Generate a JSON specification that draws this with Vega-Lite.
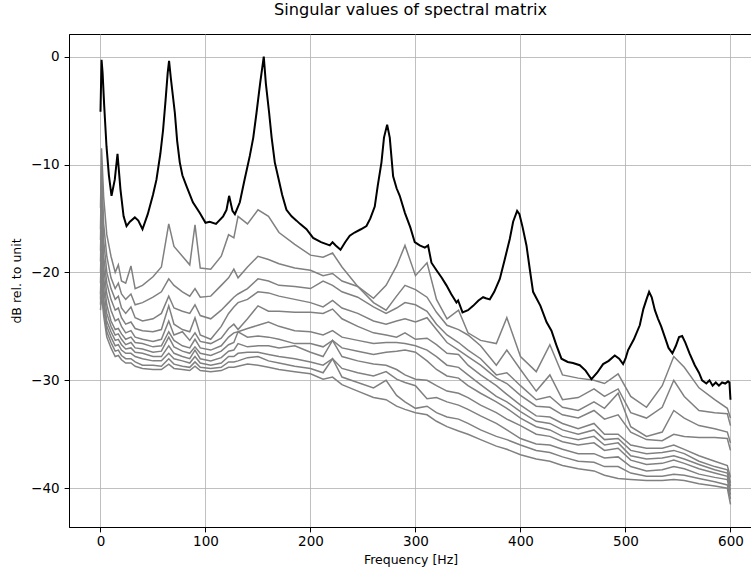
{
"$schema": "https://vega.github.io/schema/vega-lite/v6.json",
"width": 683, "height": 493,
"autosize": {"type": "none"},
"padding": {"left": 69, "top": 34, "right": 0, "bottom": 43},
"background": "white",
"title": {"text": "Singular values of spectral matrix", "font": "DejaVu Sans", "fontSize": 16.2, "fontWeight": "normal", "color": "black", "offset": 16},
"config": {
  "view": {"stroke": "black", "strokeWidth": 1},
  "axis": {"labelFont": "DejaVu Sans", "labelFontSize": 13.5, "labelColor": "black", "titleFont": "DejaVu Sans", "titleFontSize": 12.5, "titleFontWeight": "normal", "titleColor": "black", "domainColor": "black", "tickColor": "black", "tickSize": 4.9, "labelPadding": 4, "gridColor": "#b0b0b0", "gridWidth": 0.8, "gridOpacity": 1}
},
"datasets": {
"g": [
{"f":0,"a":-14,"b":-16,"c":-17,"d":-18,"e":-19,"g":-20,"h":-21,"i":-22,"j":-22.5,"k":-23,"l":-23.5},
{"f":1,"a":-8.5,"b":-10,"c":-12,"d":-13.5,"e":-14.5,"g":-16,"h":-17,"i":-18,"j":-19,"k":-20.5,"l":-22},
{"f":3,"a":-13,"b":-15.5,"c":-17,"d":-18.5,"e":-19.5,"g":-20.5,"h":-21.5,"i":-22.5,"j":-23,"k":-23.5,"l":-24},
{"f":6,"a":-16.5,"b":-18.5,"c":-20,"d":-21,"e":-22,"g":-23,"h":-23.8,"i":-24.5,"j":-25,"k":-25.5,"l":-26},
{"f":10,"a":-18.5,"b":-20.5,"c":-21.5,"d":-22.5,"e":-23.5,"g":-24.5,"h":-25,"i":-25.5,"j":-26,"k":-26.5,"l":-27},
{"f":14,"a":-20,"b":-21.5,"c":-22.5,"d":-23.5,"e":-24.5,"g":-25.3,"h":-25.8,"i":-26.3,"j":-26.8,"k":-27.3,"l":-27.8},
{"f":17,"a":-19.3,"b":-21,"c":-22.2,"d":-23.3,"e":-24.3,"g":-25.2,"h":-25.7,"i":-26.2,"j":-26.7,"k":-27.2,"l":-27.7},
{"f":20,"a":-20.8,"b":-22,"c":-23.3,"d":-24.2,"e":-25,"g":-25.7,"h":-26.2,"i":-26.7,"j":-27.2,"k":-27.7,"l":-28.1},
{"f":24,"a":-21,"b":-22.5,"c":-23.8,"d":-24.8,"e":-25.6,"g":-26.2,"h":-26.7,"i":-27.1,"j":-27.5,"k":-28,"l":-28.4},
{"f":29,"a":-19.4,"b":-22,"c":-23.2,"d":-24.6,"e":-25.4,"g":-26,"h":-26.5,"i":-27,"j":-27.5,"k":-28,"l":-28.4},
{"f":33,"a":-21.5,"b":-23,"c":-24.2,"d":-25.2,"e":-26,"g":-26.5,"h":-27,"i":-27.4,"j":-27.8,"k":-28.3,"l":-28.7},
{"f":40,"a":-21.2,"b":-22.8,"c":-24.5,"d":-25.4,"e":-26.2,"g":-26.6,"h":-27.1,"i":-27.5,"j":-28,"k":-28.6,"l":-28.9},
{"f":50,"a":-20.4,"b":-22.3,"c":-24.3,"d":-25.5,"e":-26.4,"g":-26.9,"h":-27.4,"i":-27.8,"j":-28.2,"k":-28.6,"l":-29},
{"f":58,"a":-19.5,"b":-21.8,"c":-23.8,"d":-25.3,"e":-26.2,"g":-26.8,"h":-27.3,"i":-27.8,"j":-28.2,"k":-28.7,"l":-29},
{"f":65,"a":-15.5,"b":-20.6,"c":-22.2,"d":-23.1,"e":-24.5,"g":-25.5,"h":-26,"i":-26.8,"j":-27.5,"k":-28,"l":-28.5},
{"f":70,"a":-17.6,"b":-21.2,"c":-23.3,"d":-24.8,"e":-25.8,"g":-26.3,"h":-26.9,"i":-27.5,"j":-28,"k":-28.5,"l":-28.9},
{"f":78,"a":-18.5,"b":-21.8,"c":-23.6,"d":-25.3,"e":-25.5,"g":-26.8,"h":-27.3,"i":-27.8,"j":-28.2,"k":-28.7,"l":-29},
{"f":85,"a":-19.3,"b":-22.2,"c":-23.8,"d":-25.5,"e":-26.3,"g":-27,"h":-27.5,"i":-28,"j":-28.4,"k":-28.8,"l":-29.1},
{"f":90,"a":-15.6,"b":-21.5,"c":-23,"d":-24.2,"e":-25.6,"g":-26.2,"h":-26.9,"i":-27.2,"j":-27.8,"k":-28.3,"l":-28.7},
{"f":95,"a":-19.6,"b":-22.3,"c":-24,"d":-25.8,"e":-26.4,"g":-27,"h":-27.5,"i":-28,"j":-28.4,"k":-28.8,"l":-29.1},
{"f":105,"a":-19.7,"b":-22.2,"c":-24.3,"d":-26.2,"e":-26.6,"g":-27.2,"h":-27.7,"i":-28.2,"j":-28.6,"k":-28.9,"l":-29.2},
{"f":115,"a":-18.5,"b":-21.2,"c":-23.5,"d":-25,"e":-26.1,"g":-26.8,"h":-27.3,"i":-27.9,"j":-28.4,"k":-28.8,"l":-29.1},
{"f":122,"a":-16.5,"b":-20.5,"c":-22.8,"d":-23.8,"e":-25.2,"g":-26,"h":-26.7,"i":-27.3,"j":-27.8,"k":-28.3,"l":-28.8},
{"f":127,"a":-16.8,"b":-19.7,"c":-22.3,"d":-23.2,"e":-24.8,"g":-25.6,"h":-26.5,"i":-27.2,"j":-27.8,"k":-28.3,"l":-28.8},
{"f":131,"a":-14.8,"b":-20.5,"c":-22,"d":-22.8,"e":-25.3,"g":-25.5,"h":-25.5,"i":-26.6,"j":-27.5,"k":-28.2,"l":-28.7},
{"f":140,"a":-15.5,"b":-19.5,"c":-21.5,"d":-22.5,"e":-24.3,"g":-25.2,"h":-26,"i":-26.9,"j":-27.4,"k":-27.9,"l":-28.5},
{"f":150,"a":-14.2,"b":-18.5,"c":-20.6,"d":-21.8,"e":-23.1,"g":-24.9,"h":-25.9,"i":-26.8,"j":-27.4,"k":-27.8,"l":-28.6},
{"f":160,"a":-14.8,"b":-18.8,"c":-20.8,"d":-21.9,"e":-23.6,"g":-24.6,"h":-26,"i":-26.8,"j":-27.6,"k":-28.2,"l":-28.8},
{"f":170,"a":-16.3,"b":-19.2,"c":-21.2,"d":-22.2,"e":-23.6,"g":-25,"h":-26.2,"i":-27,"j":-27.8,"k":-28.4,"l":-29},
{"f":185,"a":-17.4,"b":-19.6,"c":-21.3,"d":-22.5,"e":-23.7,"g":-25.4,"h":-26.6,"i":-26.8,"j":-28,"k":-28.7,"l":-29.2},
{"f":200,"a":-18.4,"b":-19.8,"c":-21.5,"d":-22.8,"e":-23.7,"g":-25.5,"h":-26.6,"i":-27.4,"j":-28.3,"k":-28.9,"l":-29.4},
{"f":212,"a":-18.6,"b":-20.3,"c":-20.8,"d":-23.2,"e":-23.8,"g":-25.8,"h":-26.9,"i":-27.8,"j":-28.6,"k":-29.3,"l":-29.9},
{"f":221,"a":-18.2,"b":-20.1,"c":-21.2,"d":-22.6,"e":-23.4,"g":-25.4,"h":-26.3,"i":-26.3,"j":-28,"k":-28,"l":-29.7},
{"f":230,"a":-19.5,"b":-20.8,"c":-21.8,"d":-23.3,"e":-24.3,"g":-26,"h":-27,"i":-27.8,"j":-28.9,"k":-29.7,"l":-30.4},
{"f":245,"a":-21.3,"b":-21.3,"c":-22.3,"d":-23.8,"e":-25,"g":-26.3,"h":-27.3,"i":-28.2,"j":-29.3,"k":-30.2,"l":-31},
{"f":260,"a":-22.4,"b":-22.8,"c":-23.2,"d":-24.5,"e":-25.6,"g":-26.6,"h":-27.6,"i":-28.5,"j":-29.6,"k":-30.7,"l":-31.6},
{"f":272,"a":-21.2,"b":-23.5,"c":-23.8,"d":-24.8,"e":-25.8,"g":-26.5,"h":-27.4,"i":-28.6,"j":-29.2,"k":-30,"l":-31.8},
{"f":282,"a":-19.4,"b":-22.2,"c":-23.3,"d":-24.5,"e":-26,"g":-26.5,"h":-27.3,"i":-29,"j":-29.9,"k":-31.4,"l":-32.4},
{"f":290,"a":-17.5,"b":-21.2,"c":-22.8,"d":-24.3,"e":-25.6,"g":-26.6,"h":-27.2,"i":-29.5,"j":-30.2,"k":-32,"l":-32.7},
{"f":300,"a":-20.3,"b":-21.6,"c":-23,"d":-24.6,"e":-26.2,"g":-26.8,"h":-27.4,"i":-29.9,"j":-30.5,"k":-32.6,"l":-33},
{"f":311,"a":-19.1,"b":-22.3,"c":-23.6,"d":-24.2,"e":-26.1,"g":-27.2,"h":-28.2,"i":-30,"j":-31.7,"k":-32.4,"l":-33.2},
{"f":320,"a":-22.5,"b":-23.7,"c":-24.8,"d":-25.3,"e":-26.7,"g":-27.8,"h":-29,"i":-30.5,"j":-31.6,"k":-33,"l":-33.8},
{"f":330,"a":-24.3,"b":-24.9,"c":-25.8,"d":-26.5,"e":-27.5,"g":-28.6,"h":-29.6,"i":-31,"j":-32,"k":-33.4,"l":-34.3},
{"f":341,"a":-23.5,"b":-25.3,"c":-26.5,"d":-27.2,"e":-27.6,"g":-28.8,"h":-29.8,"i":-31.2,"j":-32.3,"k":-33.6,"l":-34.7},
{"f":350,"a":-25.6,"b":-25.8,"c":-27.2,"d":-27.8,"e":-28.6,"g":-29.5,"h":-30.5,"i":-31.6,"j":-32.7,"k":-34,"l":-35},
{"f":362,"a":-26.3,"b":-26.8,"c":-28,"d":-28.6,"e":-29.5,"g":-30.4,"h":-31.2,"i":-32.3,"j":-33.3,"k":-34.6,"l":-35.5},
{"f":377,"a":-26.6,"b":-28.6,"c":-29.5,"d":-29.8,"e":-30.5,"g":-31.5,"h":-32,"i":-33,"j":-34,"k":-35.2,"l":-36.1},
{"f":387,"a":-24.2,"b":-27.2,"c":-29.3,"d":-30.3,"e":-31.3,"g":-32,"h":-32.6,"i":-33.6,"j":-34.6,"k":-35.5,"l":-36.4},
{"f":400,"a":-27.8,"b":-29,"c":-30.5,"d":-31.4,"e":-32.3,"g":-32.9,"h":-33.5,"i":-34.2,"j":-35.4,"k":-36,"l":-36.9},
{"f":415,"a":-29.2,"b":-31,"c":-31.8,"d":-32.4,"e":-33.3,"g":-33.8,"h":-34.3,"i":-35,"j":-35.9,"k":-36.5,"l":-37.3},
{"f":428,"a":-26.7,"b":-29.5,"c":-31.5,"d":-32.5,"e":-33.4,"g":-34,"h":-34.6,"i":-35.2,"j":-36,"k":-36.7,"l":-37.5},
{"f":440,"a":-29.5,"b":-31.8,"c":-32.5,"d":-33.2,"e":-34,"g":-34.6,"h":-35.2,"i":-35.7,"j":-36.4,"k":-37.1,"l":-37.9},
{"f":455,"a":-29.8,"b":-31.6,"c":-32.8,"d":-33.5,"e":-34.5,"g":-35,"h":-35.5,"i":-36,"j":-36.8,"k":-37.5,"l":-38.2},
{"f":470,"a":-30,"b":-30.8,"c":-32,"d":-32.8,"e":-34,"g":-34.6,"h":-35.2,"i":-35.8,"j":-36.8,"k":-37.6,"l":-38.4},
{"f":480,"a":-30.3,"b":-31.5,"c":-32.6,"d":-33.6,"e":-35,"g":-35.5,"h":-36,"i":-36.5,"j":-37.2,"k":-38,"l":-38.8},
{"f":493,"a":-29.4,"b":-30.8,"c":-31.2,"d":-33.2,"e":-35,"g":-35.4,"h":-35.8,"i":-36.3,"j":-37.1,"k":-38,"l":-39.1},
{"f":505,"a":-31.5,"b":-33,"c":-34.3,"d":-34.8,"e":-36,"g":-36.5,"h":-37,"i":-37.4,"j":-38,"k":-38.6,"l":-39.2},
{"f":520,"a":-32.5,"b":-33.5,"c":-35.2,"d":-35.5,"e":-36.3,"g":-36.8,"h":-37.3,"i":-37.8,"j":-38.4,"k":-38.9,"l":-39.3},
{"f":535,"a":-30.5,"b":-32.5,"c":-34.8,"d":-35.6,"e":-36.3,"g":-36.7,"h":-37.2,"i":-37.7,"j":-38.3,"k":-38.9,"l":-39.3},
{"f":546,"a":-27.8,"b":-30,"c":-32.8,"d":-35,"e":-36,"g":-36.5,"h":-37,"i":-37.4,"j":-38,"k":-38.7,"l":-39.2},
{"f":556,"a":-28.8,"b":-31.5,"c":-33.5,"d":-35.2,"e":-36.4,"g":-36.8,"h":-37.3,"i":-37.7,"j":-38.2,"k":-38.8,"l":-39.3},
{"f":570,"a":-30.7,"b":-32.8,"c":-34.2,"d":-35.3,"e":-37,"g":-37.5,"h":-37.8,"i":-38.2,"j":-38.7,"k":-39.1,"l":-39.6},
{"f":585,"a":-31.8,"b":-33,"c":-34.5,"d":-35.3,"e":-37.5,"g":-38,"h":-38.3,"i":-38.6,"j":-39,"k":-39.4,"l":-39.8},
{"f":597,"a":-32.6,"b":-33.1,"c":-34.8,"d":-35.4,"e":-37.9,"g":-38.3,"h":-38.6,"i":-38.9,"j":-39.2,"k":-39.7,"l":-40},
{"f":600,"a":-33.5,"b":-34.2,"c":-35.8,"d":-36.5,"e":-39,"g":-39.5,"h":-39.8,"i":-40.2,"j":-40.6,"k":-41,"l":-41.5}
],
"blk": [
{"f":0,"v":-5.1},{"f":1,"v":-0.3},{"f":2,"v":-1.5},{"f":3.5,"v":-4.5},{"f":5.7,"v":-8.3},{"f":8,"v":-11},{"f":10.5,"v":-12.9},{"f":13.6,"v":-11.4},{"f":16.2,"v":-9},{"f":19,"v":-12.3},{"f":22,"v":-14.8},{"f":24.8,"v":-15.7},{"f":28,"v":-15.3},{"f":32.7,"v":-14.9},{"f":36,"v":-15.2},{"f":40,"v":-16},{"f":45,"v":-14.6},{"f":50,"v":-12.8},{"f":53.3,"v":-11.4},{"f":57,"v":-9},{"f":59.6,"v":-6.8},{"f":62,"v":-4},{"f":64,"v":-1.5},{"f":65.3,"v":-0.4},{"f":67,"v":-2},{"f":70.8,"v":-5.2},{"f":73,"v":-7.8},{"f":75.5,"v":-9.8},{"f":78,"v":-11},{"f":81.9,"v":-12},{"f":88,"v":-13.5},{"f":94.6,"v":-14.5},{"f":100,"v":-15.4},{"f":104,"v":-15.3},{"f":110,"v":-15.5},{"f":116.8,"v":-14.8},{"f":120,"v":-14.2},{"f":122.5,"v":-12.9},{"f":125.7,"v":-14.3},{"f":128,"v":-14.6},{"f":132.7,"v":-13.5},{"f":137,"v":-11.5},{"f":142.2,"v":-9.2},{"f":145.5,"v":-7.5},{"f":148.6,"v":-5.2},{"f":152,"v":-2.5},{"f":155.5,"v":0},{"f":157.5,"v":-2.5},{"f":160.6,"v":-5.2},{"f":163,"v":-7.5},{"f":166,"v":-9.8},{"f":170,"v":-11.5},{"f":173,"v":-12.8},{"f":177.1,"v":-14.2},{"f":182,"v":-14.8},{"f":186.7,"v":-15.2},{"f":190,"v":-15.5},{"f":196.2,"v":-16},{"f":202.5,"v":-16.8},{"f":210,"v":-17.2},{"f":218.4,"v":-17.5},{"f":221,"v":-17.2},{"f":224,"v":-17.5},{"f":228.6,"v":-17.9},{"f":233,"v":-17.2},{"f":237.4,"v":-16.6},{"f":242,"v":-16.3},{"f":248,"v":-16},{"f":253.3,"v":-15.7},{"f":257,"v":-15},{"f":261.2,"v":-13.9},{"f":264,"v":-12},{"f":267.6,"v":-9.8},{"f":270,"v":-7.5},{"f":273,"v":-6.3},{"f":275.5,"v":-7.5},{"f":278.7,"v":-11.1},{"f":282,"v":-12.2},{"f":285,"v":-12.9},{"f":290,"v":-14.5},{"f":295,"v":-15.8},{"f":299.3,"v":-17.2},{"f":304,"v":-17.5},{"f":308.9,"v":-17.7},{"f":312,"v":-17.5},{"f":315.2,"v":-19.1},{"f":320,"v":-19.8},{"f":325,"v":-20.5},{"f":329.5,"v":-21.2},{"f":334,"v":-22},{"f":339,"v":-22.8},{"f":340.6,"v":-22.6},{"f":344.8,"v":-23.7},{"f":350,"v":-23.5},{"f":354.9,"v":-23.1},{"f":360,"v":-22.6},{"f":364.4,"v":-22.3},{"f":367,"v":-22.4},{"f":370.8,"v":-22.5},{"f":375,"v":-21.8},{"f":380.3,"v":-20.6},{"f":385,"v":-18.8},{"f":389.8,"v":-16.9},{"f":393,"v":-15.3},{"f":396.8,"v":-14.3},{"f":399,"v":-14.6},{"f":402,"v":-15.8},{"f":405.7,"v":-17.5},{"f":409,"v":-19.8},{"f":412,"v":-21.8},{"f":419,"v":-23.1},{"f":424.8,"v":-24.6},{"f":429.5,"v":-25.4},{"f":434,"v":-26.7},{"f":439,"v":-28},{"f":445,"v":-28.3},{"f":450,"v":-28.4},{"f":456.5,"v":-28.6},{"f":462,"v":-29.1},{"f":467.6,"v":-29.9},{"f":473,"v":-29.3},{"f":478.7,"v":-28.5},{"f":484,"v":-28.2},{"f":489.8,"v":-27.7},{"f":494,"v":-28},{"f":497.7,"v":-28.5},{"f":500,"v":-28},{"f":502.5,"v":-27.2},{"f":508,"v":-26.2},{"f":513.6,"v":-24.9},{"f":517,"v":-23.4},{"f":520,"v":-22.5},{"f":522.5,"v":-21.8},{"f":525,"v":-22.3},{"f":528,"v":-23.5},{"f":531,"v":-24.3},{"f":534,"v":-25},{"f":537.5,"v":-26},{"f":541,"v":-27},{"f":544.7,"v":-27.5},{"f":548,"v":-26.8},{"f":551,"v":-26},{"f":554,"v":-25.9},{"f":557,"v":-26.5},{"f":561,"v":-27.5},{"f":566,"v":-28.6},{"f":570,"v":-29.3},{"f":573,"v":-30},{"f":577,"v":-30.3},{"f":580,"v":-30},{"f":583,"v":-30.5},{"f":586,"v":-30.2},{"f":589,"v":-30.5},{"f":592,"v":-30.2},{"f":595,"v":-30.3},{"f":597.7,"v":-30.1},{"f":599,"v":-30.2},{"f":600,"v":-31.8}
]
},
"layer": [
{
  "data": {"name": "g"},
  "transform": [{"fold": ["a","b","c","d","e","g","h","i","j","k","l"], "as": ["s","v"]}],
  "mark": {"type": "line", "color": "#808080", "strokeWidth": 1.5},
  "encoding": {
    "x": {"field": "f", "type": "quantitative", "scale": {"domain": [-30, 620.5], "nice": false, "zero": false},
      "axis": {"values": [0,100,200,300,400,500,600], "title": "Frequency [Hz]", "titlePadding": 5, "labelPadding": 3, "grid": true}},
    "y": {"field": "v", "type": "quantitative", "scale": {"domain": [-43.6, 2.1], "nice": false, "zero": false},
      "axis": {"values": [0,-10,-20,-30,-40], "title": "dB rel. to unit", "titlePadding": 7, "labelPadding": 5, "grid": true}},
    "detail": {"field": "s", "type": "nominal"}
  }
},
{
  "data": {"name": "blk"},
  "mark": {"type": "line", "color": "black", "strokeWidth": 2},
  "encoding": {
    "x": {"field": "f", "type": "quantitative"},
    "y": {"field": "v", "type": "quantitative"}
  }
}
]
}
